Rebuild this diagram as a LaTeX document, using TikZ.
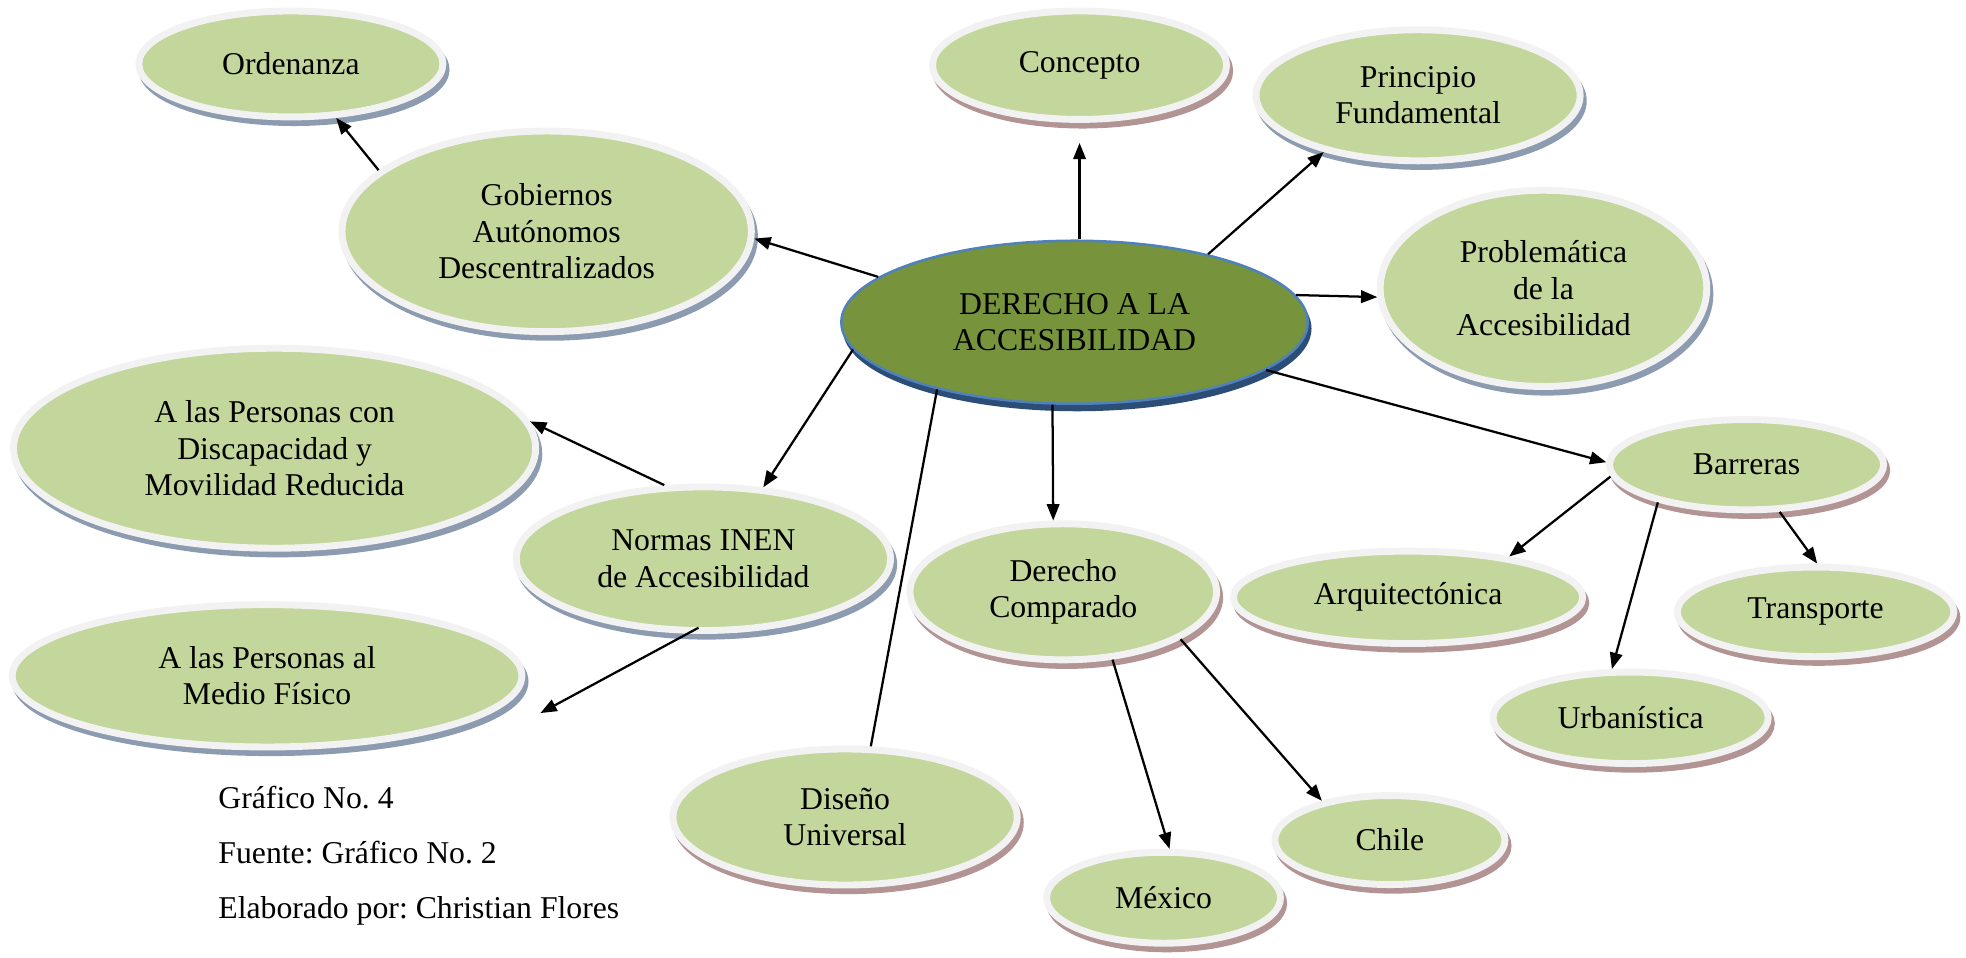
\documentclass[tikz,border=0pt]{standalone}
\usepackage{fontspec}
\setmainfont{Liberation Serif}
\usetikzlibrary{shapes.geometric,shadows,arrows.meta}
\frenchspacing

\definecolor{leaf}{HTML}{C3D69B}
\definecolor{rim}{HTML}{F2F2F2}
\definecolor{shadeblue}{HTML}{8C9BB0}
\definecolor{shadepink}{HTML}{B39494}
\definecolor{hubfill}{HTML}{77933C}
\definecolor{hubline}{HTML}{4F81BD}
\definecolor{hubshade}{HTML}{2C4D75}

\tikzset{
    bubble/.style={ellipse, fill=leaf, draw=rim, line width=5.5pt, inner sep=0pt, align=center, font=\fontsize{25.3}{29}\selectfont},
    blueshade/.style={drop shadow={shadow xshift=2.5pt, shadow yshift=-4.5pt, fill=shadeblue, draw=shadeblue, line width=5.5pt, opacity=1}},
    pinkshade/.style={drop shadow={shadow xshift=2.5pt, shadow yshift=-4.5pt, fill=shadepink, draw=shadepink, line width=5.5pt, opacity=1}},
    hubnode/.style={ellipse, fill=hubfill, draw=hubline, line width=2pt, inner sep=0pt, align=center, font=\fontsize{25.3}{29}\selectfont,
        drop shadow={shadow xshift=2pt, shadow yshift=-5pt, fill=hubshade, draw=hubshade, line width=2pt, opacity=1}},
    link/.style={line width=1.8pt},
    arrow/.style={link, -{Triangle[length=13pt,width=10pt]}},
    caption/.style={anchor=base west, inner sep=0pt, font=\fontsize{25.3}{29}\selectfont}
}

\begin{document}
\begin{tikzpicture}[x=1pt, y=-1pt]
                \useasboundingbox (0,0) rectangle (1568,763.3);

                \node[hubnode, minimum width=372pt, minimum height=130pt] (hub) at (857,257) {DERECHO A LA\\ACCESIBILIDAD};

                \node[bubble, blueshade, minimum width=242.5pt, minimum height=84.5pt] (ord) at (232,51) {Ordenanza};
                \node[bubble, blueshade, minimum width=326.5pt, minimum height=160pt] (gob) at (436,184.5) {Gobiernos\\Autónomos\\Descentralizados};
                \node[bubble, pinkshade, minimum width=234.5pt, minimum height=86.5pt] (con) at (861,52) {Concepto};
                \node[bubble, blueshade, minimum width=258.5pt, minimum height=104.5pt] (pri) at (1131,76) {Principio\\Fundamental};
                \node[bubble, blueshade, minimum width=260.5pt, minimum height=156.5pt] (pro) at (1231,230) {Problemática\\de la\\Accesibilidad};
                \node[bubble, blueshade, minimum width=416.5pt, minimum height=159.5pt] (pcon) at (219,357.5) {A las Personas con\\Discapacidad y\\Movilidad Reducida};
                \node[bubble, blueshade, minimum width=298.5pt, minimum height=114.5pt] (nor) at (561,445.6) {Normas INEN\\de Accesibilidad};
                \node[bubble, blueshade, minimum width=406.5pt, minimum height=113.5pt] (mf) at (213,539) {A las Personas al\\Medio Físico};
                \node[bubble, pinkshade, minimum width=244.5pt, minimum height=108.5pt] (dc) at (848,472) {Derecho\\Comparado};
                \node[bubble, pinkshade, minimum width=274.5pt, minimum height=108.5pt] (dis) at (674,651.6) {Diseño\\Universal};
                \node[bubble, pinkshade, minimum width=278.5pt, minimum height=73.7pt] (arq) at (1123,476.4) {Arquitectónica};
                \node[bubble, pinkshade, minimum width=218.5pt, minimum height=72pt] (bar) at (1393,370.6) {Barreras};
                \node[bubble, pinkshade, minimum width=220.5pt, minimum height=71.5pt] (tra) at (1448,488) {Transporte};
                \node[bubble, pinkshade, minimum width=219.5pt, minimum height=73pt] (urb) at (1300.5,572.5) {Urbanística};
                \node[bubble, pinkshade, minimum width=183.5pt, minimum height=71pt] (chi) at (1108.5,670) {Chile};
                \node[bubble, pinkshade, minimum width=186.5pt, minimum height=72.5pt] (mex) at (928,716) {México};

                \node[caption] (graf) at (174,645) {Gráfico No. 4};
                \node[caption] (fuente) at (174,688.8) {Fuente: Gráfico No. 2};
                \node[caption] (autor) at (174,732.7) {Elaborado por: Christian Flores};

                \draw (gob.160) edge[arrow] (ord.-50);

                \draw (hub.167) edge[arrow] (gob.-2);
                \draw (con.south |- hub.north) edge[arrow, shorten >=16pt] (con.south);
                \draw (hub.27) edge[arrow] (pri.211);
                \draw (hub.7) edge[arrow] (pro.183);
                \draw (hub.-14) edge[arrow] (bar.179);
                \draw (hub.187) edge[arrow] (nor.50);
                \draw (hub.206) edge[link] (dis.70);
                \draw (hub.255) edge[arrow] (dc.98);

                \draw (nor.118) edge[arrow] (pcon.6);
                \draw (nor.258) edge[arrow, shorten <=-10pt] ([shift={(12,29.7)}]mf.east);

                \draw (bar.185) edge[arrow] (arq.22);
                \draw (bar.203) edge[arrow] (urb.111);
                \draw (bar.-55) edge[arrow] (tra.88);

                \draw (dc.-54.5) edge[arrow] (mex.83);
                \draw (dc.-22) edge[arrow] (chi.150);

            \end{tikzpicture}
\end{document}
